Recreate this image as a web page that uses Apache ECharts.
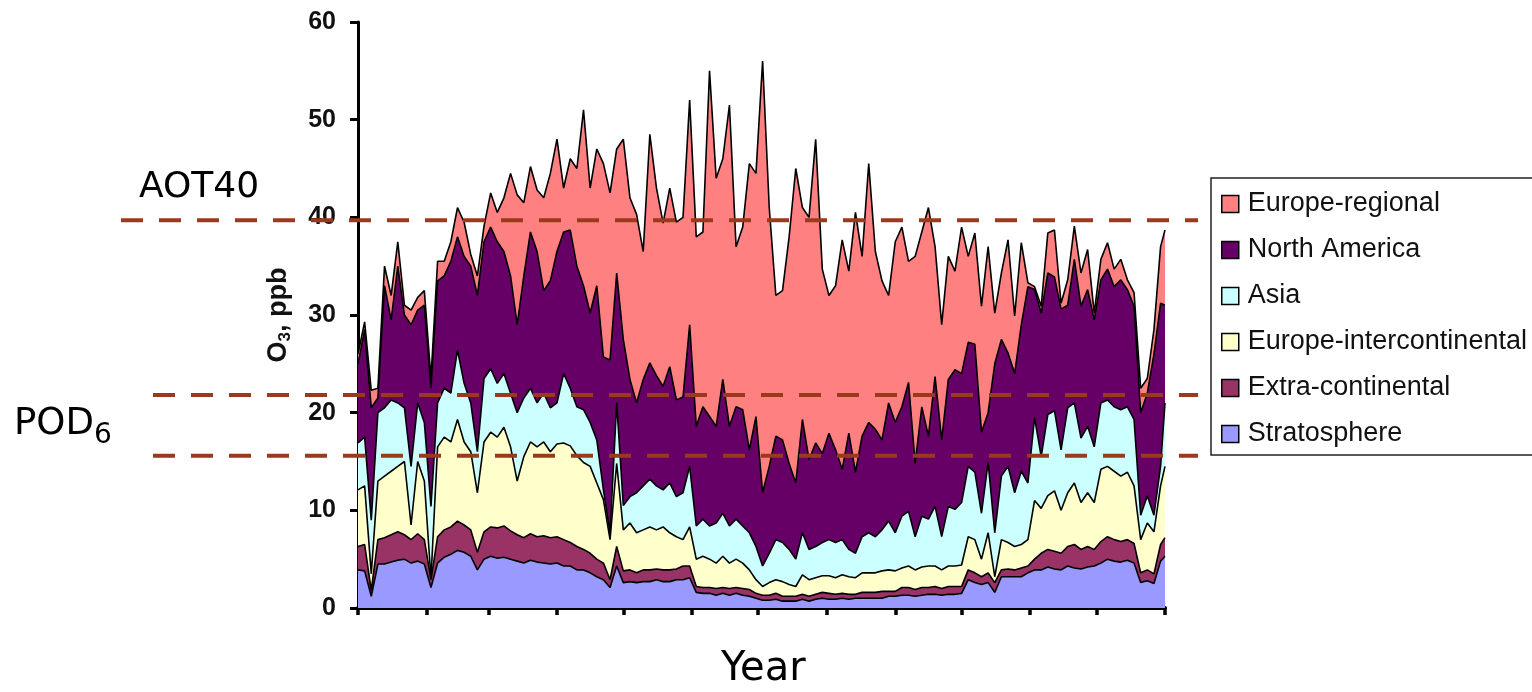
<!DOCTYPE html>
<html>
<head>
<meta charset="utf-8">
<script src="https://cdn.jsdelivr.net/npm/echarts@6/dist/echarts.min.js"></script>
<style>
  html, body { margin: 0; padding: 0; background: #ffffff; }
  #chart { width: 1532px; height: 692px; }
</style>
</head>
<body>
<div id="chart"></div>
<script>
// Daily ozone at the site, split by source, sampled every third day of the year.
// Each array is the upper edge of that source's band (cumulative ppb).
const seriesNames = ['Europe-regional', 'North America', 'Asia',
  'Europe-intercontinental', 'Extra-continental', 'Stratosphere'];
const fillColors = ['#ff8080', '#660066', '#ccffff', '#ffffcc', '#993366', '#9999ff'];

const regionalTop = [
  26.0, 29.3, 22.3, 22.5, 35.0, 32.0, 37.5, 31.0, 30.5, 31.8,
  32.5, 23.5, 35.5, 35.5, 37.5, 41.0, 39.5, 36.2, 34.0, 39.1,
  42.5, 40.5, 42.0, 44.5, 42.3, 41.5, 45.2, 42.8, 42.0, 44.5,
  48.0, 43.0, 46.0, 45.0, 51.0, 43.0, 47.0, 45.5, 42.5, 47.0,
  48.0, 42.0, 40.3, 36.5, 48.5, 43.0, 39.4, 43.0, 39.5, 40.0,
  52.0, 38.0, 38.5, 55.0, 44.0, 46.0, 51.5, 37.0, 39.0, 45.5,
  44.5, 56.0, 41.0, 32.0, 32.5, 38.0, 45.0, 41.0, 40.0, 48.0,
  34.7, 32.0, 33.0, 37.7, 34.5, 40.5, 36.0, 45.5, 36.5, 33.5,
  32.0, 37.5, 39.0, 35.5, 36.0, 38.5, 41.0, 37.0, 29.0, 36.0,
  34.5, 39.0, 36.0, 38.4, 30.9, 37.0, 30.2, 34.3, 37.7, 29.9,
  37.4, 33.3, 32.9, 30.9, 38.4, 38.7, 31.2, 33.6, 39.1, 34.3,
  36.7, 30.2, 35.7, 37.4, 34.7, 35.7, 33.6, 32.3, 22.5, 23.5,
  28.5, 37.0, 38.7
];
const northAmericaTop = [
  25.0, 28.5, 20.5, 21.5, 33.0, 29.5, 35.0, 30.0, 29.0, 30.5,
  31.0, 22.5, 33.5, 34.0, 35.5, 38.0, 36.0, 35.0, 32.0, 37.5,
  39.0, 37.5, 36.5, 34.0, 29.0, 34.0, 38.5, 36.5, 32.5, 33.5,
  36.5, 38.5, 38.7, 35.0, 33.0, 30.2, 33.0, 25.7, 25.4, 34.3,
  27.5, 23.4, 21.0, 23.4, 25.1, 23.8, 22.7, 24.7, 21.3, 21.6,
  29.0, 18.6, 20.6, 19.6, 18.6, 23.4, 18.6, 20.6, 20.3, 16.2,
  19.6, 11.8, 14.5, 17.6, 17.2, 14.8, 12.8, 19.3, 15.2, 16.9,
  15.8, 17.9, 16.2, 14.2, 17.9, 13.9, 17.6, 19.0, 18.3, 17.2,
  21.0, 19.0, 20.6, 23.1, 14.8, 20.6, 17.6, 23.7, 17.2, 23.4,
  24.4, 24.0, 27.2, 27.0, 18.0, 20.0, 25.0, 27.5, 26.1, 24.0,
  29.0, 32.9, 32.6, 30.2, 34.3, 33.9, 30.6, 31.0, 35.7, 30.9,
  32.6, 29.5, 33.6, 34.7, 32.9, 33.6, 32.6, 30.9, 20.0, 22.0,
  26.0, 31.2, 31.0
];
const asiaTop = [
  16.9, 17.5, 9.0, 20.0, 20.5, 21.3, 21.0, 20.5, 14.5, 21.0,
  19.0, 10.4, 21.0, 22.5, 22.0, 26.4, 23.0, 21.0, 16.0, 23.5,
  24.5, 23.0, 24.0, 22.0, 20.0, 21.5, 22.5, 21.0, 22.0, 20.5,
  21.0, 24.0, 22.5, 20.6, 20.3, 19.0, 17.2, 12.1, 7.7, 21.0,
  10.5, 11.4, 11.8, 12.5, 13.2, 12.5, 12.1, 12.8, 11.4, 11.8,
  14.5, 8.4, 9.1, 8.4, 8.7, 9.7, 8.4, 9.1, 8.4, 7.7,
  6.3, 4.3, 5.6, 7.0, 6.7, 6.0, 5.0, 7.7, 6.0, 6.3,
  6.7, 7.0, 6.7, 7.0, 6.0, 5.6, 7.3, 7.7, 7.3, 8.0,
  8.9, 7.7, 9.4, 9.9, 7.3, 9.4, 9.1, 10.4, 7.3, 10.4,
  10.1, 10.8, 14.5, 13.9, 9.7, 14.9, 7.7, 13.5, 14.5, 11.8,
  14.0, 12.8, 19.5, 15.5, 19.8, 20.2, 16.2, 20.5, 21.0, 17.4,
  18.6, 16.5, 21.0, 21.3, 20.6, 20.3, 20.6, 19.3, 9.5, 11.5,
  9.5, 14.5, 21.0
];
const europeInterTop = [
  12.1, 12.5, 3.5, 13.0, 13.5, 14.0, 14.5, 15.0, 8.5, 15.0,
  13.0, 3.0, 16.5, 17.5, 17.0, 19.3, 17.0, 16.0, 11.8, 17.0,
  18.0, 17.5, 18.5, 16.5, 13.0, 15.5, 17.0, 16.5, 17.0, 16.0,
  16.8, 16.9, 16.6, 15.6, 14.9, 14.5, 12.8, 11.1, 7.0, 14.8,
  8.0, 8.7, 7.7, 8.0, 8.3, 8.0, 8.3, 7.7, 7.3, 7.0,
  8.3, 5.0, 5.3, 5.0, 4.6, 5.3, 4.6, 5.0, 4.6, 3.9,
  2.9, 2.2, 2.6, 2.9, 2.7, 2.4, 2.2, 3.4, 2.9, 3.1,
  3.3, 3.3, 3.1, 3.4, 3.2, 3.1, 3.6, 3.6, 3.6, 3.8,
  3.9, 3.8, 4.1, 4.3, 3.9, 4.2, 4.3, 4.3, 3.9, 4.3,
  4.3, 4.4, 7.3, 7.0, 5.0, 7.7, 3.2, 7.0, 6.7, 6.3,
  6.5, 7.0, 11.0, 10.2, 11.5, 12.0, 10.0, 11.8, 12.8, 10.8,
  11.8, 10.8, 14.2, 14.5, 14.0, 13.5, 13.9, 12.5, 7.0, 8.7,
  7.8, 12.5, 14.5
];
const extraContTop = [
  6.3, 6.5, 1.8, 7.0, 7.2, 7.5, 7.8, 7.5, 7.0, 7.6,
  7.0, 2.9, 7.3, 8.0, 8.3, 8.9, 8.5, 8.0, 5.7, 7.8,
  8.3, 8.2, 8.4, 7.9, 7.5, 7.2, 7.6, 7.3, 7.4, 7.2,
  7.3, 7.0, 6.7, 6.3, 6.0, 5.6, 5.0, 4.6, 2.9, 6.3,
  3.8, 3.9, 3.6, 3.9, 3.9, 4.0, 3.9, 3.9, 4.0, 4.3,
  4.3, 2.2, 2.1, 2.1, 2.0, 2.1, 2.0, 2.1, 2.0, 1.9,
  1.5, 1.3, 1.3, 1.5, 1.2, 1.2, 1.2, 1.4, 1.2, 1.4,
  1.6, 1.5, 1.4, 1.5, 1.4, 1.4, 1.6, 1.6, 1.6, 1.7,
  1.7, 1.7, 2.1, 2.1, 1.9, 2.1, 2.1, 2.2, 2.0, 2.2,
  2.2, 2.2, 3.9, 3.6, 3.2, 3.6, 2.6, 3.9, 4.0, 3.9,
  4.1, 4.3, 5.0, 5.6, 6.0, 5.8, 5.6, 6.3, 6.5, 6.0,
  6.3, 6.0, 6.8, 7.3, 7.0, 6.8, 7.0, 6.6, 3.6, 3.9,
  3.5, 6.5, 7.2
];
const stratosphereTop = [
  3.9, 3.8, 1.2, 4.5, 4.5, 4.7, 4.9, 5.0, 4.6, 4.8,
  4.5, 2.1, 4.6, 5.2, 5.5, 5.9, 5.7, 5.3, 3.9, 5.0,
  5.3, 5.1, 5.2, 5.0, 4.8, 4.6, 4.9, 4.7, 4.6, 4.5,
  4.6, 4.3, 4.3, 3.9, 3.9, 3.6, 3.2, 2.9, 2.1, 4.3,
  2.6, 2.7, 2.6, 2.7, 2.7, 2.9, 2.7, 2.7, 2.9, 2.9,
  3.1, 1.6, 1.5, 1.5, 1.3, 1.5, 1.3, 1.5, 1.3, 1.2,
  1.0, 0.8, 0.8, 0.9, 0.7, 0.7, 0.7, 0.9, 0.7, 0.9,
  1.0, 0.9, 0.9, 1.0, 0.9, 1.0, 1.0, 1.0, 1.0, 1.0,
  1.2, 1.2, 1.3, 1.3, 1.2, 1.3, 1.4, 1.4, 1.3, 1.4,
  1.4, 1.5, 2.9, 2.6, 2.4, 2.6, 1.6, 3.2, 3.2, 3.2,
  3.2, 3.6, 3.9, 3.9, 4.2, 4.0, 3.9, 4.3, 4.1, 4.0,
  4.2, 4.3, 4.6, 5.0, 4.8, 4.7, 4.9, 4.6, 2.6, 2.8,
  2.5, 4.8, 5.3
];

// Day-of-year positions of the samples and the month boundaries used for ticks
const DAY_STEP = 3;
const YEAR_DAYS = 365;
const monthStarts = [0, 31, 59, 90, 120, 151, 181, 212, 243, 273, 304, 334, 365];

// Reference thresholds drawn as dashed guides (ppb)
const aot40Level = 39.7;
const podLevels = [21.8, 15.6];

const bandTops = [regionalTop, northAmericaTop, asiaTop, europeInterTop, extraContTop, stratosphereTop];
const days = regionalTop.map((_, i) => Math.min(i * DAY_STEP, YEAR_DAYS));

const axisFont = 'Liberation Sans, Arial, sans-serif';
const titleFont = 'DejaVu Sans, Verdana, sans-serif';

const chart = echarts.init(document.getElementById('chart'), null, { renderer: 'canvas' });

// Bands are drawn widest first so each narrower band paints over the one behind it
const series = seriesNames.map((name, k) => ({
  name: name,
  type: 'line',
  data: bandTops[k].map((v, i) => [days[i], v]),
  symbol: 'none',
  showSymbol: false,
  smooth: false,
  sampling: 'none',
  color: fillColors[k],
  itemStyle: { color: fillColors[k] },
  lineStyle: { color: '#000000', width: 1.6 },
  areaStyle: { color: fillColors[k], opacity: 1 },
  z: 2 + k
}));

chart.setOption({
  animation: false,
  backgroundColor: '#ffffff',
  grid: { left: 358, right: 367, top: 22, bottom: 84, containLabel: false },
  xAxis: {
    type: 'value',
    min: 0,
    max: YEAR_DAYS,
    axisLine: { show: true, onZero: false, lineStyle: { color: '#000000', width: 4 } },
    axisTick: { show: true, customValues: monthStarts, length: 7, lineStyle: { color: '#000000', width: 3.5 } },
    axisLabel: { show: false },
    splitLine: { show: false }
  },
  yAxis: {
    type: 'value',
    min: 0,
    max: 60,
    interval: 10,
    name: '{o|O}{s|3}{o|, ppb}',
    nameLocation: 'middle',
    nameRotate: 90,
    nameGap: 64,
    nameTextStyle: {
      rich: {
        o: { fontSize: 27, fontWeight: 'bold', fontFamily: axisFont, color: '#111111' },
        s: { fontSize: 17, fontWeight: 'bold', fontFamily: axisFont, color: '#111111', padding: [13, 0, 0, 0] }
      }
    },
    axisLine: { show: true, lineStyle: { color: '#000000', width: 3 } },
    axisTick: { show: true, length: 8, lineStyle: { color: '#000000', width: 3 } },
    axisLabel: { margin: 22, fontSize: 25, fontWeight: 'bold', fontFamily: axisFont, color: '#111111' },
    splitLine: { show: false }
  },
  legend: {
    orient: 'vertical',
    left: 1211,
    top: 178,
    padding: [11, 400, 6, 10],
    itemWidth: 17,
    itemHeight: 17,
    itemGap: 16,
    icon: 'rect',
    backgroundColor: '#ffffff',
    borderColor: '#222222',
    borderWidth: 1.5,
    borderRadius: 0,
    itemStyle: { borderColor: '#000000', borderWidth: 1.5 },
    textStyle: { fontSize: 27, fontFamily: axisFont, color: '#111111', lineHeight: 30, padding: [0, 0, 0, 4] },
    data: seriesNames
  },
  series: series
});

// Threshold guides and side annotations, placed through the y scale
const guideColor = '#9a3a1c';
const yOf = v => chart.convertToPixel({ yAxisIndex: 0 }, v);
const dashed = (x1, x2, v) => ({
  type: 'line',
  z: 100,
  shape: { x1: x1, y1: yOf(v), x2: x2, y2: yOf(v) },
  style: { stroke: guideColor, lineWidth: 4, lineDash: [22, 16] }
});

chart.setOption({
  graphic: [
    dashed(121, 1198, aot40Level),
    dashed(153, 1198, podLevels[0]),
    dashed(153, 1198, podLevels[1]),
    {
      type: 'text', z: 100, left: 139, top: 170,
      style: { text: 'AOT40', fontSize: 36, fontFamily: titleFont, fill: '#000000' }
    },
    {
      type: 'text', z: 100, left: 14, top: 406,
      style: { text: 'POD', fontSize: 37, fontFamily: titleFont, fill: '#000000' }
    },
    {
      type: 'text', z: 100, left: 94, top: 422,
      style: { text: '6', fontSize: 28, fontFamily: titleFont, fill: '#000000' }
    },
    {
      type: 'text', z: 100, left: 721, top: 650,
      style: { text: 'Year', fontSize: 40, fontFamily: titleFont, fill: '#000000' }
    }
  ]
});
</script>
</body>
</html>
